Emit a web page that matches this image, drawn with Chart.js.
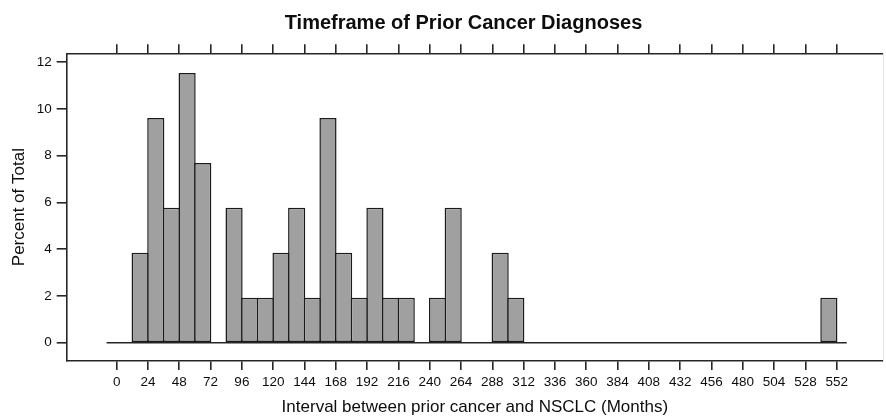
<!DOCTYPE html>
<html>
<head>
<meta charset="utf-8">
<script src="https://cdn.jsdelivr.net/npm/chart.js@4.4.1/dist/chart.umd.min.js"></script>
<style>
  html, body { margin: 0; padding: 0; background: #ffffff; }
  #wrap { width: 886px; height: 416px; }
</style>
</head>
<body>
<div id="wrap"><canvas id="c" width="886" height="416"></canvas></div>
<script>
// ---- data ----
const TITLE = 'Timeframe of Prior Cancer Diagnoses';
const X_TITLE = 'Interval between prior cancer and NSCLC (Months)';
const Y_TITLE = 'Percent of Total';

const X_TICKS = [0, 24, 48, 72, 96, 120, 144, 168, 192, 216, 240, 264, 288, 312, 336, 360, 384, 408, 432, 456, 480, 504, 528, 552];
const Y_TICKS = [0, 2, 4, 6, 8, 10, 12];

// bin centers (12-month bins from 0 to 552)
const BIN_CENTERS = [6, 18, 30, 42, 54, 66, 78, 90, 102, 114, 126, 138, 150, 162, 174, 186, 198, 210, 222, 234, 246, 258, 270, 282, 294, 306, 318, 330, 342, 354, 366, 378, 390, 402, 414, 426, 438, 450, 462, 474, 486, 498, 510, 522, 534, 546];
const PERCENT = [0, 3.85, 9.62, 5.77, 11.54, 7.69, 0, 5.77, 1.92, 1.92, 3.85, 5.77, 1.92, 9.62, 3.85, 1.92, 5.77, 1.92, 1.92, 0, 1.92, 5.77, 0, 0, 3.85, 1.92, 0, 0, 0, 0, 0, 0, 0, 0, 0, 0, 0, 0, 0, 0, 0, 0, 0, 0, 0, 1.92];

// horizontal reference line at 0
const BASE_X = [-7.7, 559.7];
const BASE_Y = [0, 0];

// axis ranges
const X_RANGE = [-38.3, 587.5];
const Y_RANGE = [-0.783, 12.385];

// ---- chart ----
const FONT = "'Liberation Sans', Arial, Helvetica, sans-serif";
const INK = '#0d0d0d';
const FRAME = '#262626';

const barData = BIN_CENTERS.map((x, i) => ({ x: x, y: PERCENT[i] }));
const baseData = BASE_X.map((x, i) => ({ x: x, y: BASE_Y[i] }));

const titlePlugin = {
  id: 'plainTitle',
  afterDraw(chart) {
    const ctx = chart.ctx;
    ctx.save();
    ctx.font = 'bold 20px ' + FONT;
    ctx.fillStyle = INK;
    ctx.textAlign = 'center';
    ctx.textBaseline = 'alphabetic';
    ctx.fillText(TITLE, 463.5, 28.5);
    ctx.restore();
  }
};

function setTicks(values) {
  return function (scale) { scale.ticks = values.map(v => ({ value: v })); };
}

new Chart(document.getElementById('c'), {
  data: {
    datasets: [
      {
        type: 'line',
        data: baseData,
        borderColor: FRAME,
        borderWidth: 1.5,
        pointRadius: 0,
        fill: false,
        xAxisID: 'x',
        yAxisID: 'y',
        order: 0
      },
      {
        type: 'bar',
        data: barData,
        backgroundColor: '#a0a0a0',
        borderColor: '#1a1a1a',
        borderWidth: 1.5,
        borderSkipped: false,
        barPercentage: 1.096,
        categoryPercentage: 1.0,
        xAxisID: 'x',
        yAxisID: 'y',
        order: 1
      }
    ]
  },
  options: {
    responsive: false,
    animation: false,
    devicePixelRatio: 1,
    layout: { padding: 0 },
    plugins: {
      legend: { display: false },
      title: { display: false },
      tooltip: { enabled: false }
    },
    scales: {
      x: {
        type: 'linear',
        position: 'bottom',
        min: X_RANGE[0],
        max: X_RANGE[1],
        offset: false,
        afterBuildTicks: setTicks(X_TICKS),
        afterFit(s) { s.height = 55; },
        grid: { display: true, offset: false, drawOnChartArea: false, drawTicks: true, tickLength: 9, color: FRAME, lineWidth: 1.6 },
        border: { display: true, color: FRAME, width: 1.6 },
        ticks: { autoSkip: false, maxRotation: 0, minRotation: 0, padding: 4, color: INK, font: { family: FONT, size: 13.5 } },
        title: { display: true, text: X_TITLE, color: INK, font: { family: FONT, size: 17, lineHeight: 1 }, padding: { top: 0, bottom: 0.3 } }
      },
      xTop: {
        type: 'linear',
        position: 'top',
        min: X_RANGE[0],
        max: X_RANGE[1],
        offset: false,
        afterBuildTicks: setTicks(X_TICKS),
        afterFit(s) { s.height = 53.3; },
        grid: { display: true, offset: false, drawOnChartArea: false, drawTicks: true, tickLength: 9, color: FRAME, lineWidth: 1.6 },
        border: { display: true, color: FRAME, width: 1.6 },
        ticks: { display: false }
      },
      y: {
        type: 'linear',
        position: 'left',
        min: Y_RANGE[0],
        max: Y_RANGE[1],
        afterBuildTicks: setTicks(Y_TICKS),
        afterFit(s) { s.width = 66.7; },
        grid: { display: true, drawOnChartArea: false, drawTicks: true, tickLength: 10, color: FRAME, lineWidth: 1.6 },
        border: { display: true, color: FRAME, width: 1.6 },
        ticks: { padding: 5, color: INK, font: { family: FONT, size: 13.5 } },
        title: { display: true, text: Y_TITLE, color: INK, font: { family: FONT, size: 17, lineHeight: 1.2 }, padding: { top: 8.8, bottom: 0 } }
      },
      yRight: {
        type: 'linear',
        position: 'right',
        min: Y_RANGE[0],
        max: Y_RANGE[1],
        afterFit(s) { s.width = 3; },
        grid: { display: false },
        border: { display: true, color: '#e4e4e4', width: 1 },
        ticks: { display: false }
      }
    }
  },
  plugins: [titlePlugin]
});
</script>
</body>
</html>
